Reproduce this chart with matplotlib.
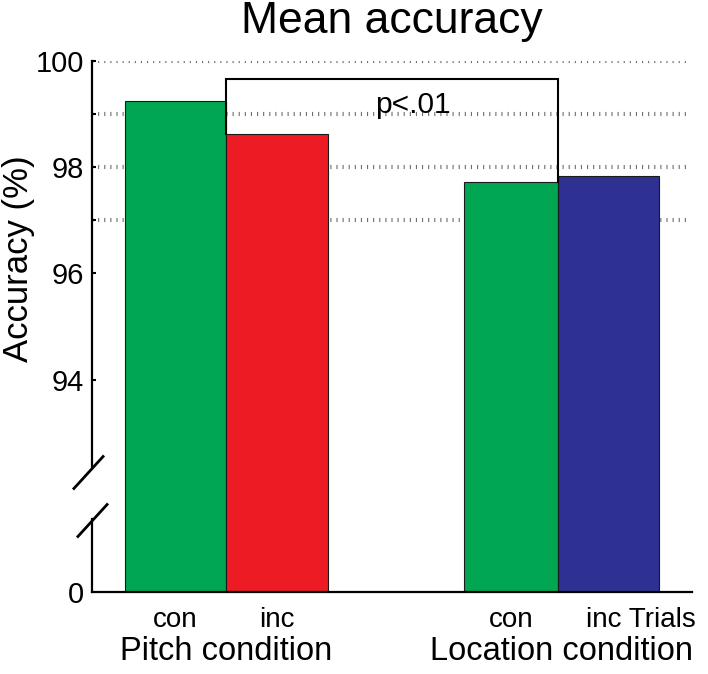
import numpy as np
import matplotlib
matplotlib.use("Agg")
import matplotlib.pyplot as plt
import matplotlib.transforms as mtransforms

plt.rcParams['font.family'] = ['Liberation Sans', 'DejaVu Sans']
plt.rcParams['lines.scale_dashes'] = False

# data
conditions = ["con", "inc", "con", "inc"]
groups = ["Pitch condition", "Location condition"]
accuracy = [99.25, 98.63, 97.73, 97.83]
bar_colors = ["#00A651", "#ED1C24", "#00A651", "#2E3192"]
p_label = "p<.01"
p_height = 99.66
ytick_vals = [90, 94, 96, 98, 100]
ytick_labels = ["0", "94", "96", "98", "100"]
grid_vals = [97, 98, 99, 100]

# layout (bar left edges / widths in axis units)
lefts = [0.33, 1.34, 3.72, 4.66]
widths = [1.01, 1.02, 0.94, 1.01]

fig = plt.figure(figsize=(7.08, 6.74), dpi=100)
ax = fig.add_axes([92 / 708, 1 - 592 / 674, 600 / 708, 531 / 674])
ax.set_xlim(0, 6)
ax.set_ylim(90, 100)

# dotted grid lines behind bars
for g in grid_vals:
    ax.axhline(g, xmin=0, xmax=0.993, color="#6e6e6e", lw=3.0,
               ls=(0, (0.8, 3.6)), zorder=0)

ax.bar(lefts, accuracy, width=widths, align="edge", bottom=0,
       color=bar_colors, edgecolor="#1a1a1a", linewidth=0.8, zorder=2)

# significance bracket: inc pitch vs con location
xl = lefts[1]
xr = lefts[2] + widths[2]
ax.plot([xl, xl, xr, xr], [accuracy[1], p_height, p_height, accuracy[2]],
        color="black", lw=1.5, zorder=3, solid_joinstyle="miter")
ax.text(3.21, 99.17, p_label, ha="center", va="center", fontsize=21.5, zorder=4)

# spines
for s in ["top", "right", "left"]:
    ax.spines[s].set_visible(False)
ax.spines["bottom"].set_linewidth(1.6)

# broken left axis
ax.plot([0, 0], [92.35, 100], color="black", lw=1.6, clip_on=False, zorder=5)
ax.plot([0, 0], [90, 91.37], color="black", lw=1.6, clip_on=False, zorder=5)
slash = [(-31, -34), (31, 34)]
ax.plot([-0.045, -0.005], [92.26, 91.36], ls="none", marker=slash,
        markersize=24.5, markeredgewidth=2.0, color="black", clip_on=False, zorder=5)

ax.set_yticks(ytick_vals)
ax.set_yticklabels(ytick_labels)
ax.set_yticks([97, 99], minor=True)
ax.tick_params(axis="y", which="both", direction="in", length=3, width=1.5,
               labelsize=21, pad=6)
ax.yaxis.get_major_ticks()[0].tick1line.set_visible(False)

centers = [l + w / 2 for l, w in zip(lefts, widths)]
ax.set_xticks(centers)
ax.set_xticklabels(conditions[:-1] + [conditions[-1] + " Trials"])
ax.tick_params(axis="x", length=0, labelsize=20, pad=11)
# last label continues with "Trials", so it starts at the bar instead of centring
last = ax.get_xticklabels()[-1]
last.set_horizontalalignment("left")
last.set_transform(last.get_transform() +
                   mtransforms.ScaledTranslation(-23 / 100, 0, fig.dpi_scale_trans))

# group labels
trans = mtransforms.blended_transform_factory(ax.transData, ax.transAxes)
group_centers = [(lefts[0] + lefts[1] + widths[1]) / 2,
                 (lefts[2] + lefts[3] + widths[3]) / 2]
for gx, gl in zip(group_centers, groups):
    ax.text(gx, -0.128, gl, transform=trans, ha="center", va="baseline", fontsize=23.5)

ax.set_ylabel("Accuracy (%)", fontsize=25)
ax.yaxis.set_label_coords(-0.095, 0.628)

fig.text(392 / 708, 1 - 33 / 674, "Mean accuracy", ha="center", va="baseline", fontsize=32)

fig.savefig("out.png", dpi=100)
